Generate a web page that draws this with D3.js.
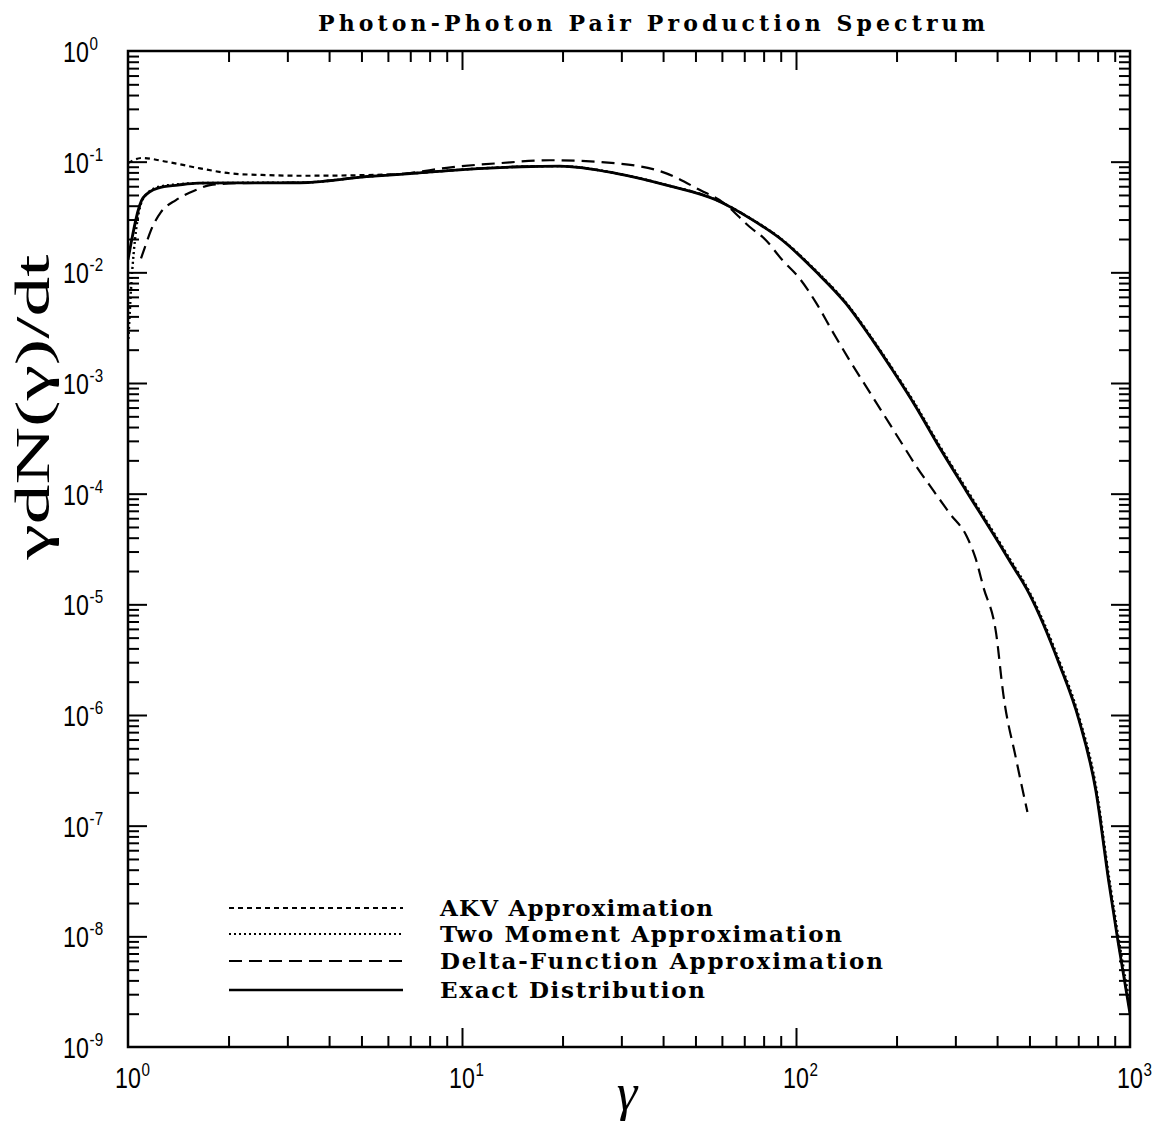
<!DOCTYPE html>
<html><head><meta charset="utf-8">
<script src="https://cdn.jsdelivr.net/npm/d3@7"></script>
<style>body{margin:0;background:#fff}svg{display:block}</style>
</head><body>
<svg id="c" width="1160" height="1131"></svg>
<script>
// ---- data ----
const exactGamma = [1.0, 1.109, 1.229, 1.411, 1.62, 2.2, 3.27, 5.18, 7.0, 10.3, 15.0, 19.6, 28.9, 40.9, 57.7, 72.6, 91.0, 114.9, 141, 169.5, 194.5, 228.6, 268.4, 322.7, 405.7, 434.9, 499, 613.6, 704, 790, 865.7, 920, 1000];
const exactValue = [0.013, 0.047, 0.0577, 0.0614, 0.0641, 0.0643, 0.0645, 0.0731, 0.078, 0.0852, 0.090, 0.0912, 0.0784, 0.0614, 0.045, 0.0309, 0.0195, 0.0101, 0.00524, 0.00244, 0.00131, 6.08e-4, 2.64e-4, 1.07e-4, 3.54e-5, 2.5e-5, 1.25e-5, 2.91e-6, 8.94e-7, 2.08e-7, 2.98e-8, 9.1e-9, 2.0e-9];

const twoMomentGamma = [1.003, 1.03, 1.109, 1.229, 1.411, 1.62, 2.2, 3.27, 5.18, 7.0, 10.3, 15.0, 19.6, 28.9, 40.9, 57.7, 72.6, 91.0, 114.9, 141, 169.5, 194.5, 228.6, 268.4, 322.7, 405.7, 434.9, 499, 613.6, 704, 790, 865.7, 920, 1000];
const twoMomentValue = [0.0025, 0.0105, 0.046, 0.059, 0.0625, 0.064, 0.0644, 0.0646, 0.0733, 0.0782, 0.0853, 0.0901, 0.0912, 0.0786, 0.0616, 0.0452, 0.0311, 0.0197, 0.0103, 0.00535, 0.0025, 0.00135, 6.3e-4, 2.75e-4, 1.12e-4, 3.7e-5, 2.62e-5, 1.31e-5, 3.1e-6, 9.6e-7, 2.3e-7, 3.4e-8, 1.05e-8, 2.4e-9];

const akvGamma = [1.0, 1.1, 1.306, 1.643, 2.06, 2.6, 3.27, 4.6, 6.0, 7.0, 10.3, 15.0, 19.6, 28.9, 40.9, 57.7, 72.6, 91.0, 114.9, 141, 169.5, 194.5, 228.6, 268.4, 322.7, 405.7, 434.9, 499, 613.6, 704, 790, 865.7, 920, 1000];
const akvValue = [0.097, 0.108, 0.0998, 0.087, 0.078, 0.0756, 0.0746, 0.0752, 0.0765, 0.078, 0.0853, 0.0901, 0.0912, 0.0785, 0.0615, 0.0451, 0.031, 0.0196, 0.0102, 0.0053, 0.00246, 0.00132, 6.15e-4, 2.68e-4, 1.09e-4, 3.6e-5, 2.55e-5, 1.27e-5, 2.95e-6, 9.1e-7, 2.15e-7, 3.1e-8, 9.5e-9, 2.1e-9];

const deltaGamma = [1.094, 1.124, 1.172, 1.255, 1.392, 1.597, 1.759, 2.1, 3.27, 5.18, 7.0, 9.0, 12.97, 18.3, 28.9, 40.9, 51.6, 60.1, 72.6, 81.3, 91.0, 102.2, 114.9, 128.8, 144.6, 162.4, 182.3, 204.6, 229.7, 257.6, 289, 324.6, 345, 364, 397.5, 417.3, 456.9, 493];
const deltaValue = [0.0134, 0.0169, 0.0241, 0.035, 0.045, 0.0554, 0.0614, 0.0638, 0.0647, 0.0735, 0.079, 0.088, 0.097, 0.103, 0.0966, 0.0784, 0.0554, 0.0434, 0.0258, 0.0195, 0.0129, 0.0089, 0.0053, 0.0029, 0.00161, 9.22e-4, 5.3e-4, 3.04e-4, 1.75e-4, 1.07e-4, 6.6e-5, 4.1e-5, 2.6e-5, 1.43e-5, 5.43e-6, 1.56e-6, 3.89e-7, 1.33e-7];

const xTickExponents = [0, 1, 2, 3];
const yTickExponents = [0, -1, -2, -3, -4, -5, -6, -7, -8, -9];
const legendLabels = ["AKV Approximation", "Two Moment Approximation", "Delta-Function Approximation", "Exact Distribution"];
const titleText = "Photon-Photon Pair Production Spectrum";

// ---- drawing ----
const svg = d3.select('#c');
const L = 128, R = 1130, T = 51, B = 1047;
const x = d3.scaleLog().domain([1, 1000]).range([L, R]);
const y = d3.scaleLog().domain([1e-9, 1]).range([B, T]);

const minorX = [], majorX = [10, 100];
for (let k = 0; k < 3; k++) for (let m = 2; m <= 9; m++) minorX.push(m * Math.pow(10, k));
const minorY = [], majorY = [];
for (let k = -9; k < 0; k++) { for (let m = 2; m <= 9; m++) minorY.push(m * Math.pow(10, k)); if (k > -9) majorY.push(Math.pow(10, k)); }

function addAxis(axis, tr) {
  const g = svg.append('g').attr('transform', tr).call(axis);
  g.select('.domain').remove();
  g.selectAll('.tick line').attr('stroke', '#000').attr('stroke-width', 2);
  g.selectAll('.tick text').remove();
}
addAxis(d3.axisBottom(x).tickValues(minorX).tickSize(-11).tickFormat(''), `translate(0,${B})`);
addAxis(d3.axisBottom(x).tickValues(majorX).tickSize(-19).tickFormat(''), `translate(0,${B})`);
addAxis(d3.axisTop(x).tickValues(minorX).tickSize(-11).tickFormat(''), `translate(0,${T})`);
addAxis(d3.axisTop(x).tickValues(majorX).tickSize(-19).tickFormat(''), `translate(0,${T})`);
addAxis(d3.axisLeft(y).tickValues(minorY).tickSize(-11).tickFormat(''), `translate(${L},0)`);
addAxis(d3.axisLeft(y).tickValues(majorY).tickSize(-19).tickFormat(''), `translate(${L},0)`);
addAxis(d3.axisRight(y).tickValues(minorY).tickSize(-11).tickFormat(''), `translate(${R},0)`);
addAxis(d3.axisRight(y).tickValues(majorY).tickSize(-19).tickFormat(''), `translate(${R},0)`);

svg.append('rect').attr('x', L).attr('y', T).attr('width', R - L).attr('height', B - T)
  .attr('fill', 'none').attr('stroke', '#000').attr('stroke-width', 2.5);

// tick labels: narrow "10" with superscript exponent (condensed by a horizontal scale)
const tickFont = 'Liberation Sans, Arial, sans-serif';
function powLabel(x0, y0, e) {
  const t = svg.append('text').attr('transform', `translate(${x0},${y0}) scale(0.8,1)`)
    .attr('font-family', tickFont).attr('font-size', 29).attr('fill', '#000');
  t.append('tspan').text('10');
  t.append('tspan').attr('dx', 1).attr('dy', -12).attr('font-size', 19).text(String(e));
}
yTickExponents.forEach(e => powLabel(63, y(Math.pow(10, e)) + 11, e));
xTickExponents.forEach(e => powLabel(x(Math.pow(10, e)) - 13, 1088, e));

// axis titles
svg.append('text').attr('x', 627).attr('y', 1110).attr('text-anchor', 'middle')
  .attr('font-family', 'Liberation Serif, serif').attr('font-style', 'italic').attr('font-size', 52).text('γ');
svg.append('text').attr('transform', 'translate(49,407) rotate(-90)').attr('text-anchor', 'middle')
  .attr('textLength', 305).attr('lengthAdjust', 'spacingAndGlyphs')
  .attr('font-family', 'Liberation Serif, serif').attr('font-size', 49).text('γdN(γ)/dt');

// title
svg.append('text').attr('x', 318).attr('y', 31).attr('textLength', 667).attr('lengthAdjust', 'spacing')
  .attr('font-family', 'DejaVu Serif, serif').attr('font-weight', 'bold').attr('font-size', 22).text(titleText);

// curves
svg.append('clipPath').attr('id', 'pa').append('rect')
  .attr('x', L).attr('y', T).attr('width', R - L).attr('height', B - T);
const zip = (a, b) => a.map((g, i) => [g, b[i]]);
const styles = [
  { dash: '5,4', w: 2.2 },
  { dash: '2,3', w: 2.4 },
  { dash: '13,7', w: 2.2 },
  { dash: null, w: 2.8 }
];
const series = [
  { data: zip(exactGamma, exactValue), s: styles[3] },
  { data: zip(akvGamma, akvValue), s: styles[0] },
  { data: zip(deltaGamma, deltaValue), s: styles[2] },
  { data: zip(twoMomentGamma, twoMomentValue), s: styles[1] }
];
const lineGen = d3.line().x(d => x(d[0])).y(d => y(d[1])).curve(d3.curveMonotoneX);
const cg = svg.append('g').attr('clip-path', 'url(#pa)');
series.forEach(sr => {
  cg.append('path').attr('d', lineGen(sr.data))
    .attr('fill', 'none').attr('stroke', '#000').attr('stroke-width', sr.s.w)
    .attr('stroke-dasharray', sr.s.dash).attr('stroke-linejoin', 'round');
});

// legend
const rowY = [908, 934, 961, 990];
const textLens = [273, 402, 443, 265];
legendLabels.forEach((lab, i) => {
  svg.append('line').attr('x1', 229).attr('x2', 403).attr('y1', rowY[i]).attr('y2', rowY[i])
    .attr('stroke', '#000').attr('stroke-width', styles[i].w - 0.4).attr('stroke-dasharray', styles[i].dash);
  svg.append('text').attr('x', 440).attr('y', rowY[i] + 8).attr('textLength', textLens[i]).attr('lengthAdjust', 'spacing')
    .attr('font-family', 'DejaVu Serif, serif').attr('font-weight', 'bold').attr('font-size', 23).text(lab);
});
</script>
</body></html>
